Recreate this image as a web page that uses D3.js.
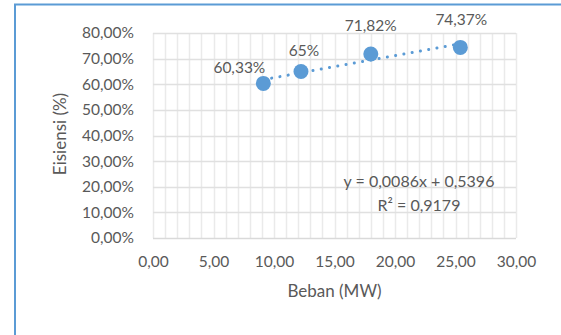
<!DOCTYPE html>
<html>
<head>
<meta charset="utf-8">
<script src="https://cdn.jsdelivr.net/npm/d3@7"></script>
<style>
  html, body { margin: 0; padding: 0; background: #fff; }
  svg { display: block; }
  text { font-family: Lato, "Open Sans", sans-serif; fill: #595959; }
</style>
</head>
<body>
<svg id="chart" width="561" height="335"></svg>
<script>
// Load (MW) vs. efficiency data
const beban = [9.12, 12.23, 18.0, 25.4];
const efisiensi = [0.6033, 0.65, 0.7182, 0.7437];
const pointLabels = ["60,33%", "65%", "71,82%", "74,37%"];

// Linear trendline coefficients (y = slope * x + intercept)
const trendSlope = [0.0086];
const trendIntercept = [0.5396];
const trendText = ["y = 0,0086x + 0,5396", "R² = 0,9179"];

// Axis ticks
const xTicks = [0, 5, 10, 15, 20, 25, 30];
const xMinorTicks = d3.range(0, 31, 1);
const yTicks = [0, 0.1, 0.2, 0.3, 0.4, 0.5, 0.6, 0.7, 0.8];

const svg = d3.select("#chart");
const W = 561, H = 335;
const plot = { left: 153, right: 516, top: 33, bottom: 238 };

const fmtX = d => d3.format(".2f")(d).replace(".", ",");
const fmtY = d => d3.format(".2%")(d).replace(".", ",");

const x = d3.scaleLinear().domain([0, 30]).range([plot.left, plot.right]);
const y = d3.scaleLinear().domain([0, 0.8]).range([plot.bottom, plot.top]);

// chart frame
svg.append("rect")
  .attr("x", 15).attr("y", 4.5)
  .attr("width", W).attr("height", H)
  .attr("fill", "none")
  .attr("stroke", "#5B9BD5")
  .attr("stroke-width", 2);

// vertical gridlines (every unit)
svg.append("g")
  .selectAll("line")
  .data(xMinorTicks)
  .join("line")
  .attr("x1", d => Math.round(x(d)) + 0.5)
  .attr("x2", d => Math.round(x(d)) + 0.5)
  .attr("y1", plot.top)
  .attr("y2", plot.bottom)
  .attr("stroke", "#EAEAEA")
  .attr("stroke-width", 1.5);

// horizontal gridlines
svg.append("g")
  .selectAll("line")
  .data(yTicks)
  .join("line")
  .attr("x1", plot.left)
  .attr("x2", plot.right)
  .attr("y1", d => Math.round(y(d)) + 0.5)
  .attr("y2", d => Math.round(y(d)) + 0.5)
  .attr("stroke", d => d === 0 ? "#D9D9D9" : "#E0E0E0")
  .attr("stroke-width", 1.5);

// y axis tick labels
const yAxis = d3.axisLeft(y).tickValues(yTicks).tickFormat(fmtY).tickSize(0).tickPadding(19);
const gy = svg.append("g").attr("transform", `translate(${plot.left},0)`).call(yAxis);
gy.select(".domain").remove();
gy.selectAll("text").attr("font-size", 15.5).attr("fill", "#595959")
  .style("font-family", "Lato, 'Open Sans', sans-serif");

// x axis tick labels
const xAxis = d3.axisBottom(x).tickValues(xTicks).tickFormat(fmtX).tickSize(0).tickPadding(18);
const gx = svg.append("g").attr("transform", `translate(0,${plot.bottom})`).call(xAxis);
gx.select(".domain").remove();
gx.selectAll("text").attr("font-size", 15.5).attr("fill", "#595959")
  .style("font-family", "Lato, 'Open Sans', sans-serif");

// axis titles
svg.append("text")
  .attr("x", (plot.left + plot.right) / 2)
  .attr("y", 297)
  .attr("text-anchor", "middle")
  .attr("font-size", 17)
  .text("Beban (MW)");

svg.append("text")
  .attr("transform", `translate(66,134) rotate(-90)`)
  .attr("text-anchor", "middle")
  .attr("font-size", 17)
  .text("Eisiensi (%)");

// trendline across the data range
const xMin = d3.min(beban), xMax = d3.max(beban);
const trend = [xMin, xMax].map(v => [v, trendSlope[0] * v + trendIntercept[0]]);
svg.append("line")
  .attr("x1", x(trend[0][0])).attr("y1", y(trend[0][1]))
  .attr("x2", x(trend[1][0])).attr("y2", y(trend[1][1]))
  .attr("stroke", "#5B9BD5")
  .attr("stroke-width", 3)
  .attr("stroke-linecap", "round")
  .attr("stroke-dasharray", "0.1 8.3");

// data points
svg.append("g")
  .selectAll("circle")
  .data(beban.map((b, i) => ({ b, e: efisiensi[i] })))
  .join("circle")
  .attr("cx", d => x(d.b))
  .attr("cy", d => y(d.e))
  .attr("r", 7.5)
  .attr("fill", "#5B9BD5");

// data labels
const labelOffsets = [
  { dx: -24, dy: -10.5 },
  { dx: 3, dy: -15 },
  { dx: 0, dy: -23 },
  { dx: 1, dy: -22 }
];
svg.append("g")
  .selectAll("text")
  .data(beban.map((b, i) => ({ b, e: efisiensi[i], t: pointLabels[i], o: labelOffsets[i] })))
  .join("text")
  .attr("x", d => x(d.b) + d.o.dx)
  .attr("y", d => y(d.e) + d.o.dy)
  .attr("text-anchor", "middle")
  .attr("font-size", 15.5)
  .text(d => d.t);

// trendline equation
svg.append("g")
  .selectAll("text")
  .data(trendText)
  .join("text")
  .attr("x", 419)
  .attr("y", (d, i) => 187 + i * 24)
  .attr("text-anchor", "middle")
  .attr("font-size", 16)
  .text(d => d);
</script>
</body>
</html>
